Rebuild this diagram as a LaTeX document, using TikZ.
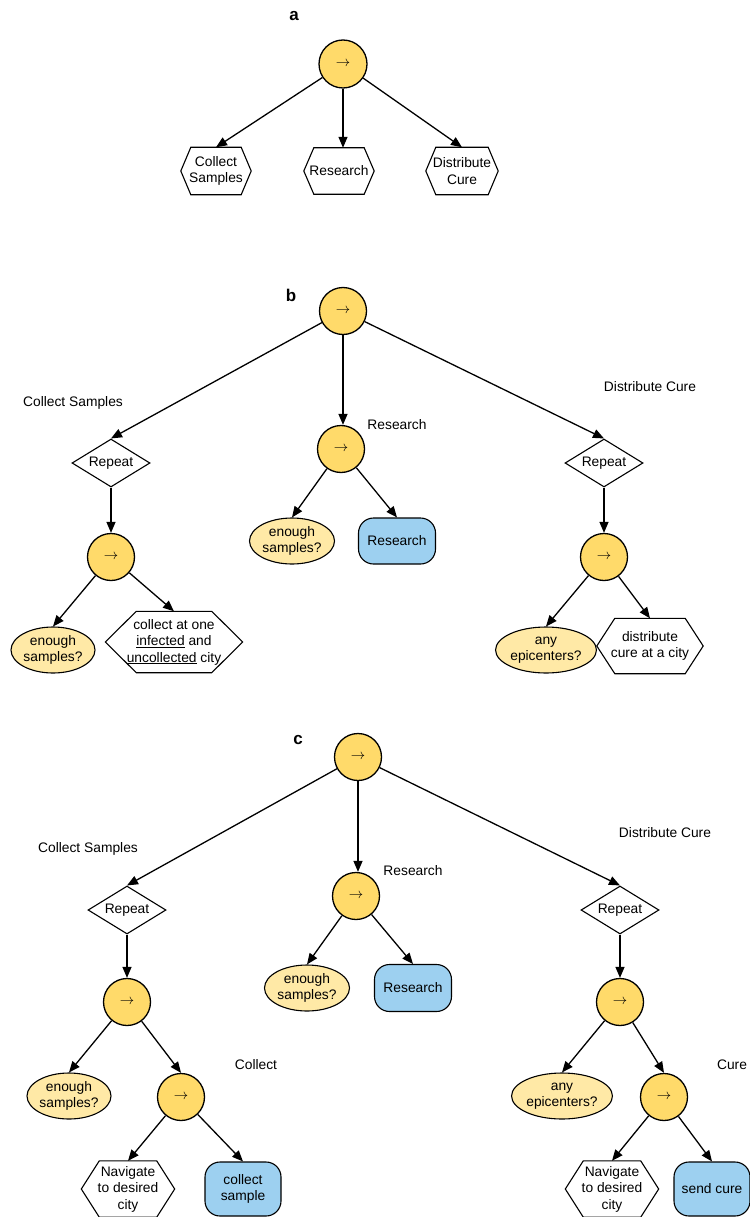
\documentclass[tikz,border=0pt]{standalone}
\usepackage{fontspec}
\setmainfont{Liberation Sans}
\usetikzlibrary{arrows.meta,shapes.geometric}
\definecolor{seqfill}{HTML}{FFDA6A}
\definecolor{condfill}{HTML}{FFE9A6}
\definecolor{actfill}{HTML}{9DD0F0}
% outline of a flat-topped hexagon around a rectangular node; #2 = horizontal inset of the top edge
\newcommand\hexoutline[2]{%
  \draw[hexline] (#1.west) -- ([xshift=#2]#1.north west) -- ([xshift=-#2]#1.north east)
    -- (#1.east) -- ([xshift=-#2]#1.south east) -- ([xshift=#2]#1.south west) -- cycle;}
\begin{document}
\begin{tikzpicture}[x=1pt,y=-1pt,
  every node/.style={font=\fontsize{13.8}{16.5}\selectfont, align=center, inner sep=0pt},
  panel/.style={font=\bfseries\fontsize{17}{17}\selectfont},
  tag/.style={},
  seq/.style={circle, draw, line width=1.3pt, fill=seqfill, minimum size=47pt,
              font=\fontsize{14}{14}\selectfont},
  rep/.style={diamond, draw, line width=1.1pt, fill=white, aspect=1.6,
              minimum width=78pt, minimum height=48pt},
  cond/.style={ellipse, draw, line width=1.1pt, fill=condfill,
               minimum width=85pt, minimum height=46pt},
  act/.style 2 args={rectangle, rounded corners=15pt, draw, line width=1.1pt, fill=actfill,
               minimum width=#1, minimum height=#2},
  hexbox/.style 2 args={rectangle, minimum width=#1, minimum height=#2},
  hexline/.style={line width=1.1pt, line join=miter},
  link/.style={line width=1.3pt, -{Triangle[length=11pt,width=9pt]}}
]
\fill[white] (0,0) rectangle (749,1217);
\useasboundingbox (0,0) rectangle (749,1217);

% ---------- a ----------
\node[panel] (la) at (294,16) {a};
\node[seq, minimum size=48pt] (a0) at (343,64) {$\rightarrow$};
\node[hexbox={70pt}{47pt}] (a1) at (216,171) {Collect\\Samples};
\hexoutline{a1}{10pt}
\node[hexbox={70pt}{46pt}] (a2) at (339,171) {Research};
\hexoutline{a2}{10pt}
\node[hexbox={72pt}{47pt}] (a3) at (462,171) {Distribute\\Cure};
\hexoutline{a3}{10pt}
\draw[link] (a0) -- (a1.north);
\draw[link] (a0.south) -- (a0.south |- a2.north);
\draw[link] (a0) -- (a3.north);

% ---------- b ----------
\node[panel] (lb) at (291,295) {b};
\node[seq] (b0) at (343,311) {$\rightarrow$};

\node[tag] (tb1) at (73,403) {Collect Samples};
\node[rep] (b1) at (111,463) {Repeat};
\node[seq] (b11) at (111,557) {$\rightarrow$};
\node[cond, minimum width=84pt] (b111) at (53,650) {enough\\samples?};
\node[hexbox={137pt}{61pt}] (b112) at (174,642) {collect at one\\\underline{infected} and\\\underline{uncollected} city};
\hexoutline{b112}{31pt}

\node[tag] (tb2) at (397,425) {Research};
\node[seq] (b2) at (341,449) {$\rightarrow$};
\node[cond] (b21) at (292,541) {enough\\samples?};
\node[act={77pt}{46pt}] (b22) at (397,541) {Research};

\node[tag] (tb3) at (650,387) {Distribute Cure};
\node[rep] (b3) at (604,463) {Repeat};
\node[seq] (b31) at (604,557) {$\rightarrow$};
\node[cond] (b311) at (546,650) {any\\epicenters?};
\node[hexbox={106pt}{55pt}] (b312) at (650,646) {distribute\\cure at a city};
\hexoutline{b312}{18pt}

\draw[link] (b0.south) -- (b0.south |- b2.north);
\foreach \s/\t in {b0/b1,b0/b3,b1/b11,b11/b111,b11/b112,
                   b2/b21,b2/b22,b3/b31,b31/b311,b31/b312}
  \draw[link] (\s) -- (\t.north);

% ---------- c ----------
\node[panel] (lc) at (298,740) {c};
\node[seq] (c0) at (358,757) {$\rightarrow$};

\node[tag] (tc1) at (88,849) {Collect Samples};
\node[rep] (c1) at (127,910) {Repeat};
\node[seq] (c11) at (127,1002) {$\rightarrow$};
\node[cond, minimum width=84pt] (c111) at (69,1096) {enough\\samples?};
\node[seq] (c112) at (181,1097) {$\rightarrow$};
\node[tag] (tc112) at (256,1065) {Collect};
\node[hexbox={93pt}{56pt}] (c1121) at (128,1189) {Navigate\\to desired\\city};
\hexoutline{c1121}{18pt}
\node[act={76pt}{54pt}] (c1122) at (243,1189) {collect\\sample};

\node[tag] (tc2) at (413,871) {Research};
\node[seq] (c2) at (356,896) {$\rightarrow$};
\node[cond] (c21) at (307,988) {enough\\samples?};
\node[act={77pt}{47pt}] (c22) at (413,988) {Research};

\node[tag] (tc3) at (665,833) {Distribute Cure};
\node[rep] (c3) at (620,910) {Repeat};
\node[seq] (c31) at (620,1002) {$\rightarrow$};
\node[cond] (c311) at (562,1096) {any\\epicenters?};
\node[seq] (c312) at (664,1097) {$\rightarrow$};
\node[tag] (tc312) at (732,1065) {Cure};
\node[hexbox={93pt}{56pt}] (c3121) at (612,1189) {Navigate\\to desired\\city};
\hexoutline{c3121}{18pt}
\node[act={76pt}{54pt}] (c3122) at (712,1189) {send cure};

\draw[link] (c0.south) -- (c0.south |- c2.north);
\foreach \s/\t in {c0/c1,c0/c3,c1/c11,c11/c111,c11/c112,c112/c1121,c112/c1122,
                   c2/c21,c2/c22,c3/c31,c31/c311,c31/c312,c312/c3121,c312/c3122}
  \draw[link] (\s) -- (\t.north);
\end{tikzpicture}
\end{document}
